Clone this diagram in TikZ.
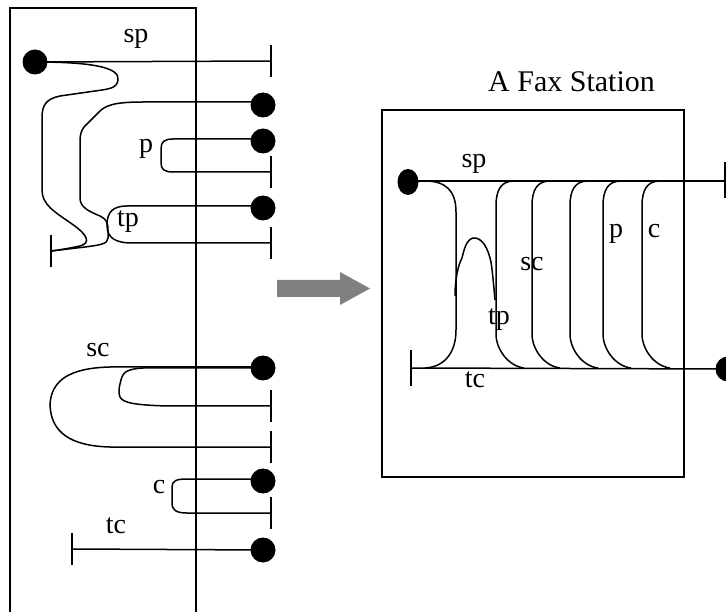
\documentclass[tikz,border=0pt]{standalone}
\usepackage{fontspec}
\setmainfont{Liberation Serif}
\usetikzlibrary{shapes.geometric}
\begin{document}
\begin{tikzpicture}[x=1pt,y=-1pt,line width=1.5pt,
  dot/.style={circle,fill=black,inner sep=0pt,minimum size=25pt},
  edot/.style={ellipse,fill=black,inner sep=0pt,minimum width=21pt,minimum height=26pt},
  lbl/.style={anchor=base,inner sep=0pt,font=\fontsize{28}{32}\selectfont},
  ttl/.style={anchor=base,inner sep=0pt,font=\fontsize{30}{34}\selectfont},
  wire/.style={draw=black,line width=1.5pt},
  frame/.style={draw=black,line width=1.5pt},
  arrowfill/.style={fill=gray}]
\useasboundingbox (0,0) rectangle (726,612);
% ---------------- left picture ----------------
\draw[frame] (10,8) rectangle (196,640);
% tick coordinates
\coordinate (tsp) at (271,61);
\coordinate (tb) at (51,251);
\coordinate (tpk) at (271,172);
\coordinate (ttp) at (271,243);
\coordinate (tsc1) at (271,406);
\coordinate (tsc2) at (271,447);
\coordinate (tck) at (271,513);
\coordinate (ttc) at (72,549);
\foreach \t in {tsp,tb,tpk,ttp,tsc1,tsc2,tck,ttc}
  \draw[wire] (\t) ++(0,-16) -- ++(0,32);
% dots
\node[dot] (d1) at (35,62) {};
\node[dot] (d2) at (263,105) {};
\node[dot] (d3) at (263,141) {};
\node[dot] (d4) at (263,208) {};
\node[dot] (d5) at (263,368) {};
\node[dot] (d6) at (263,481) {};
\node[dot] (d7) at (263,550) {};
% sp
\draw[wire] (d1.center) -- (tsp);
\draw[wire] (d1.center) .. controls (95,62) and (120,68) .. (118,80)
  .. controls (117,88) and (110,89) .. (95,91)
  -- (60,96) .. controls (46,99) and (42,105) .. (42,118)
  -- (42,190) .. controls (42,205) and (55,212) .. (72,224)
  .. controls (88,235) and (91,243) .. (80,246)
  .. controls (70,248) and (60,250) .. (tb);
\draw[wire] (d2.center) -- (263,102) -- (143,102)
  .. controls (115,102) and (105,105) .. (98,113) -- (84,127)
  .. controls (81,131) and (80,135) .. (80,142) -- (80,198)
  .. controls (80,207) and (88,211) .. (100,216)
  .. controls (106,219) and (108,222) .. (108,230) -- (108,238)
  .. controls (108,244) and (100,245) .. (85,247) -- (tb);
% p
\draw[wire] (d3.center) -- (263,139) -- (173,139)
  .. controls (164,139) and (161,142) .. (161,149) -- (161,163)
  .. controls (161,169) and (164,172) .. (173,172) -- (tpk);
% tp
\draw[wire] (d4.center) -- (263,206) -- (127,206)
  .. controls (113,206) and (107,212) .. (107,225)
  .. controls (107,238) and (115,243) .. (133,243) -- (ttp);
% sc
\draw[wire] (d5.center) -- (263,367) -- (110,367)
  .. controls (70,368) and (51,380) .. (50,405)
  .. controls (51,432) and (70,446) .. (110,447) -- (tsc2);
\draw[wire] (d5.center) -- (143,368)
  .. controls (127,369) and (123,372) .. (121,380)
  .. controls (119,387) and (118,393) .. (120,397)
  .. controls (123,403) and (135,405) .. (167,406) -- (tsc1);
% c
\draw[wire] (d6.center) -- (263,479) -- (187,479)
  .. controls (176,479) and (172,481) .. (172,487) -- (172,503)
  .. controls (172,510) and (176,513) .. (187,513) -- (tck);
% tc
\draw[wire] (ttc) -- (d7.center);
% labels
\node[lbl] (lsp) at (136,43) {sp};
\node[lbl] (lp) at (146,153) {p};
\node[lbl] (ltp) at (128,227) {tp};
\node[lbl] (lsc) at (98,357) {sc};
\node[lbl] (lc) at (159,493) {c};
\node[lbl] (ltc) at (116,533) {tc};
% ---------------- arrow ----------------
\fill[arrowfill] (277,280) -- (340,280) -- (340,272) -- (370,288.5)
  -- (340,305) -- (340,297) -- (277,297) -- cycle;
% ---------------- right picture ----------------
\node[ttl] (title) at (571.5,92) {A Fax Station};
\draw[frame] (382,110) rectangle (684,477);
\coordinate (rsp) at (725,181);
\coordinate (rtc) at (411,368);
\draw[wire] (rsp) ++(0,-19) -- ++(0,36);
\draw[wire] (rtc) ++(0,-18) -- ++(0,36);
\node[edot] (e1) at (408,182) {};
\node[dot] (e2) at (728,369) {};
\draw[wire] (e1.center) -- (408,181) -- (rsp);
\draw[wire] (rtc) -- (e2.center);
% hourglass left side
\draw[wire] (425,181) .. controls (445,181) and (456,190) .. (456,212)
  -- (456,330) .. controls (456,352) and (445,367) .. (425,368);
% parentheses
\foreach \v in {496,532,570,603,642}
  \draw[wire] ({\v+18},181) .. controls ({\v+5},181) and (\v,190) .. (\v,206)
    -- (\v,334) .. controls (\v,349) and ({\v+12},366) .. ({\v+28},368);
% tp loop
\draw[wire] (455,296) .. controls (455,280) and (458,265) .. (462,258)
  .. controls (464,250) and (466,240) .. (473,238)
  .. controls (482,237) and (488,248) .. (491,262)
  .. controls (493,275) and (494,290) .. (495,300);
% labels
\node[lbl] (rsplbl) at (474,168) {sp};
\node[lbl] (rsclbl) at (532,271) {sc};
\node[lbl] (rtplbl) at (499,325) {tp};
\node[lbl] (rplbl) at (616,238) {p};
\node[lbl] (rclbl) at (654,238) {c};
\node[lbl] (rtclbl) at (475,388) {tc};
\end{tikzpicture}
\end{document}
